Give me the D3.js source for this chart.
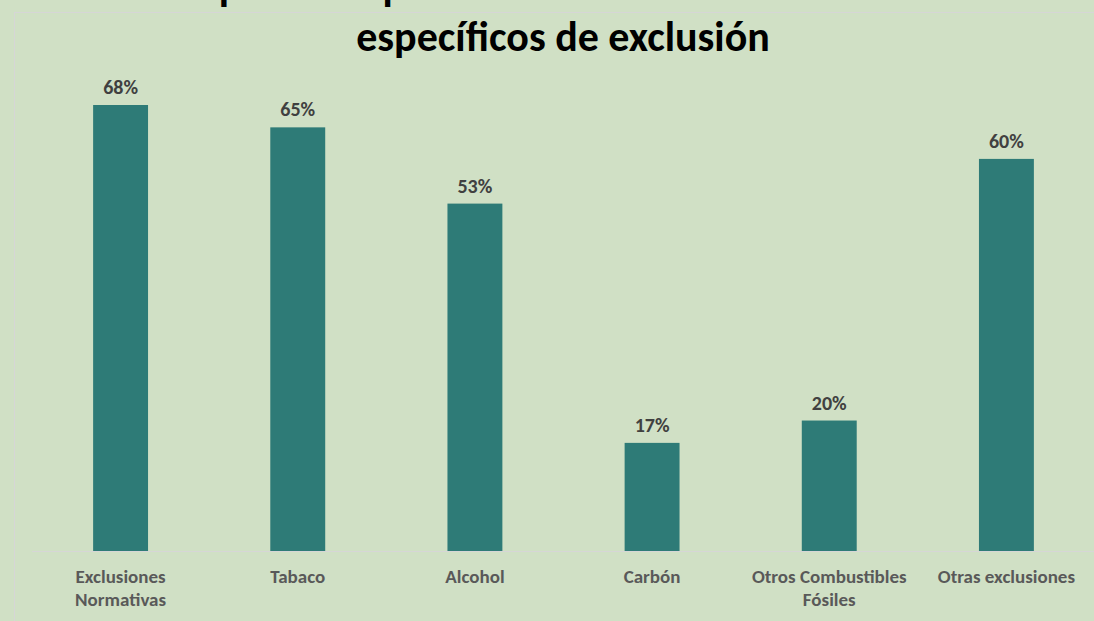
<!DOCTYPE html>
<html>
<head>
    <meta charset="utf-8"/>
    <title>Criterios de exclusión</title>
    <script src="https://d3js.org/d3.v7.min.js"></script>
    <style>
        html, body { margin: 0; padding: 0; background: #d0e0c5; overflow: hidden; }
        svg { display: block; }
    </style>
</head>
<body>
<div id="chart"></div>
<script>
    // data
    const categories = [
        ['Exclusiones', 'Normativas'],
        ['Tabaco'],
        ['Alcohol'],
        ['Carbón'],
        ['Otros Combustibles', 'Fósiles'],
        ['Otras exclusiones']
    ]
    const values = [0.680, 0.646, 0.530, 0.166, 0.200, 0.598]
    const titleLines = ['Aplicación por las Gestoras de sus criterios', 'específicos de exclusión']

    const W = 1094, H = 621
    const BAR_COLOR = '#2e7b77'
    const BG_COLOR = '#d0e0c5'
    const FONT = "Carlito, Lato, 'Open Sans', sans-serif"

    const svg = d3.select('#chart').append('svg')
        .attr('width', W).attr('height', H)

    svg.append('rect').attr('width', W).attr('height', H).attr('fill', BG_COLOR)

    // faint chart-area border
    svg.append('rect')
        .attr('x', 14.5).attr('y', 12.5).attr('width', W + 20).attr('height', H + 20)
        .attr('fill', 'none').attr('stroke', '#d6d6d6').attr('stroke-width', 1)

    const keys = categories.map(c => c.join(' '))
    const x = d3.scaleBand().domain(keys).range([32, 1095]).paddingInner(0.69).paddingOuter(0.345)
    const y = d3.scaleLinear().domain([0, 0.68]).range([552, 105])

    // baseline
    svg.append('line')
        .attr('x1', 32).attr('x2', W).attr('y1', 551.5).attr('y2', 551.5)
        .attr('stroke', '#d6d6d6')

    svg.selectAll('rect.bar').data(values).join('rect')
        .attr('class', 'bar')
        .attr('x', (d, i) => x(keys[i]))
        .attr('width', x.bandwidth())
        .attr('y', d => y(d))
        .attr('height', d => y(0) - y(d) - 1)
        .attr('fill', BAR_COLOR)

    const fmt = d3.format('.0%')
    svg.selectAll('text.val').data(values).join('text')
        .attr('class', 'val')
        .attr('x', (d, i) => x(keys[i]) + x.bandwidth() / 2)
        .attr('y', d => y(d) - 11)
        .attr('text-anchor', 'middle')
        .attr('font-family', FONT).attr('font-weight', 'bold').attr('font-size', 20)
        .attr('fill', '#404040')
        .text(d => fmt(d))

    const catText = svg.selectAll('text.cat').data(categories).join('text')
        .attr('class', 'cat')
        .attr('text-anchor', 'middle')
        .attr('font-family', FONT).attr('font-weight', 'bold').attr('font-size', 19)
        .attr('fill', '#595959')
    catText.selectAll('tspan').data((d, i) => d.map(t => ({ t, i }))).join('tspan')
        .attr('x', d => x(keys[d.i]) + x.bandwidth() / 2)
        .attr('y', (d, j) => 583 + j * 23)
        .text(d => d.t)

    // the first title line is cut by the top edge, as in the source image
    svg.selectAll('text.title').data(titleLines).join('text')
        .attr('class', 'title')
        .attr('x', 563)
        .attr('y', (d, i) => 0 + i * 51)
        .attr('text-anchor', 'middle')
        .attr('font-family', FONT).attr('font-weight', 'bold').attr('font-size', 42)
        .attr('fill', '#000')
        .text(d => d)
</script>
</body>
</html>
